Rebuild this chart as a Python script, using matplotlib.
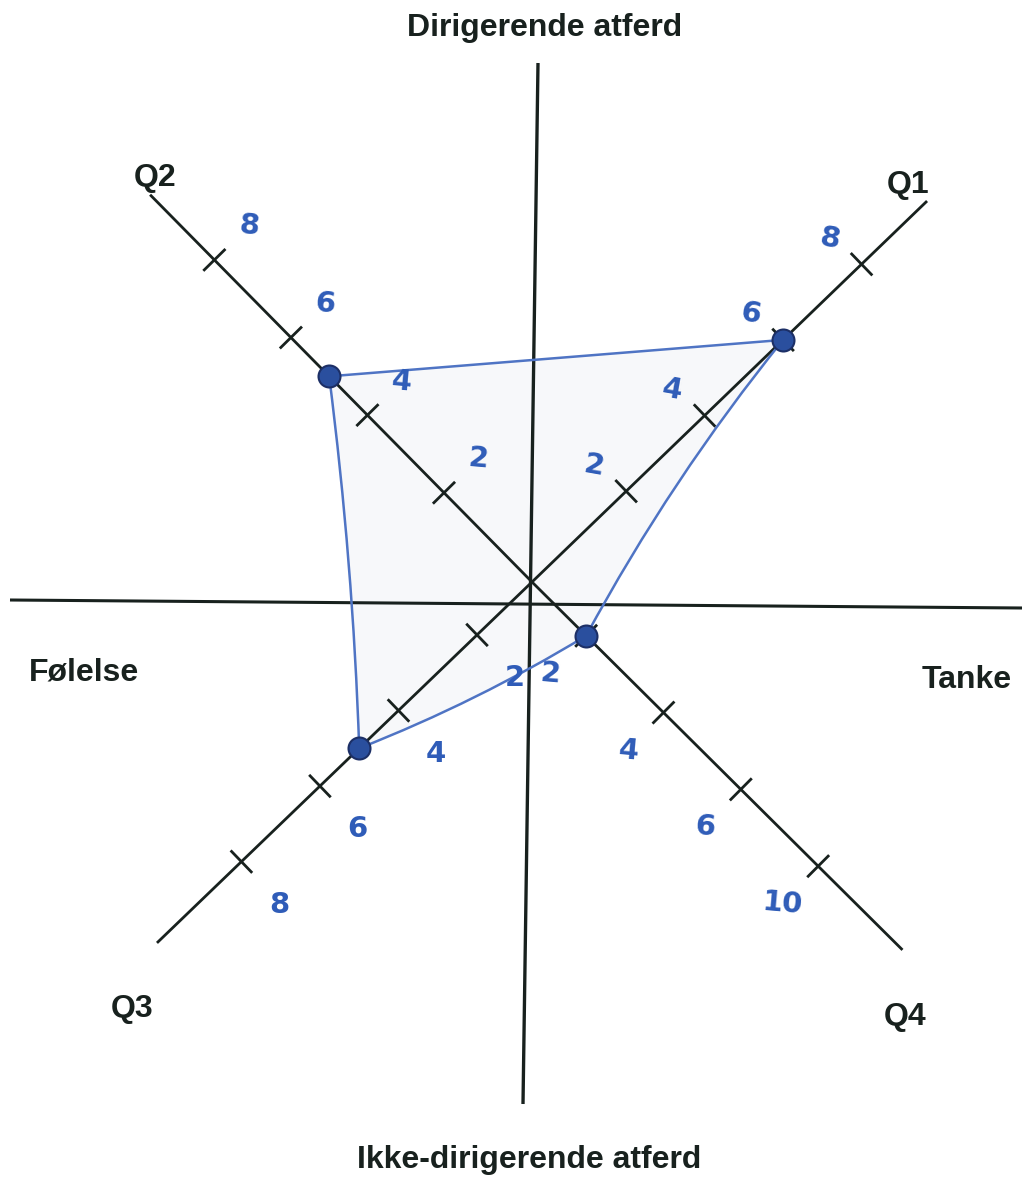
import numpy as np
import matplotlib
matplotlib.use("Agg")
import matplotlib.pyplot as plt
from matplotlib.path import Path
from matplotlib.patches import PathPatch

# ---------------- data ----------------
quadrants = ["Q1", "Q2", "Q3", "Q4"]
scores = [6, 5, 5, 2]                     # plotted value on each diagonal axis
tick_values = [2, 4, 6, 8]
tick_labels = {
    "Q1": ["2", "4", "6", "8"],
    "Q2": ["2", "4", "6", "8"],
    "Q3": ["2", "4", "6", "8"],
    "Q4": ["2", "4", "6", "10"],
}
title_top = "Dirigerende atferd"
title_bottom = "Ikke-dirigerende atferd"
title_left = "Følelse"
title_right = "Tanke"

# ---------------- layout (hand-drawn geometry, in pixels) ----------------
W, H = 1022, 1181
S = 54.5                        # pixels per scale unit along an axis
CX, CY = 532, 582               # pixel position of the crossing
angle = {"Q1": 43.96, "Q2": 134.6, "Q3": 223.9, "Q4": -44.8}
length = {"Q1": 10.07, "Q2": 9.98, "Q3": 9.55, "Q4": 9.58}
zero_shift = {"Q1": 0.4, "Q2": 0.3, "Q3": -0.6, "Q4": -0.6}
label_side = {"Q1": 1, "Q2": -1, "Q3": 1, "Q4": -1}   # +1 = ccw perpendicular
label_dist = {"Q1": 0.75, "Q2": 0.88, "Q3": 1.05, "Q4": 0.95}
label_along = {"Q1": -0.1, "Q2": 0.0, "Q3": 0.05, "Q4": 0.03}
label_rot = {"Q1": -10, "Q2": -5, "Q3": 0, "Q4": -5}
name_off_px = {"Q1": (-19, -8), "Q2": (5, -9), "Q3": (-25, 74), "Q4": (3, 75)}
edge_bulge = {("Q1", "Q4"): -0.15, ("Q4", "Q3"): 0.1, ("Q3", "Q2"): -0.08, ("Q2", "Q1"): 0.0}

BLACK = "#18211e"
BLUE_LINE = "#4f74c4"
BLUE_PT = "#2a4f9e"
BLUE_TXT = "#2f5cb8"
TITLE_FONT = dict(fontsize=23, fontweight="bold", family="Liberation Sans", color=BLACK)
HAND_FONT = ["Liberation Sans Narrow", "DejaVu Sans"]

fig = plt.figure(figsize=(W / 100, H / 100), dpi=100)
ax = fig.add_axes([0, 0, 1, 1])
ax.set_xlim(-CX / S, (W - CX) / S)
ax.set_ylim((CY - H) / S, CY / S)
ax.axis("off")


def px(x, y):
    return (x - CX) / S, (CY - y) / S


def unit(q):
    a = np.deg2rad(angle[q])
    return np.array([np.cos(a), np.sin(a)])


def pos(q, v):
    return (v + zero_shift[q]) * unit(q)


# main vertical / horizontal axes (slightly skewed as in the scan)
x0, y0 = px(538, 63)
x1, y1 = px(523, 1104)
ax.plot([x0, x1], [y0, y1], color=BLACK, lw=2.4, solid_capstyle="butt", zorder=2)
x0, y0 = px(10, 600)
x1, y1 = px(1022, 608)
ax.plot([x0, x1], [y0, y1], color=BLACK, lw=2.2, solid_capstyle="butt", zorder=2)

# diagonal axes with ticks
for q in quadrants:
    u = unit(q)
    end = length[q] * u
    ax.plot([0, end[0]], [0, end[1]], color=BLACK, lw=2.0, solid_capstyle="butt", zorder=2)
    perp = np.array([-u[1], u[0]])
    for tv, tl in zip(tick_values, tick_labels[q]):
        p = pos(q, tv)
        a = p - 0.26 * perp
        b = p + 0.26 * perp
        ax.plot([a[0], b[0]], [a[1], b[1]], color=BLACK, lw=2.0, zorder=2)
        lp = p + label_side[q] * label_dist[q] * perp + label_along[q] * u
        ax.text(lp[0], lp[1], tl, color=BLUE_TXT, fontsize=21, family=HAND_FONT,
                fontweight="bold", ha="center", va="center",
                rotation=label_rot[q], zorder=6)
    ex, ey = CX + end[0] * S, CY - end[1] * S
    ox, oy = name_off_px[q]
    nx, ny = px(ex + ox, ey + oy)
    ax.text(nx, ny, q, ha="center", va="baseline", zorder=6, **TITLE_FONT)

# blue polygon through the scores
order = ["Q1", "Q4", "Q3", "Q2", "Q1"]
val = dict(zip(quadrants, scores))
verts, codes = [], []
for i in range(len(order) - 1):
    qa, qb = order[i], order[i + 1]
    pa, pb = pos(qa, val[qa]), pos(qb, val[qb])
    mid = (pa + pb) / 2
    d = pb - pa
    n = np.array([d[1], -d[0]]) / np.linalg.norm(d)
    if np.dot(n, mid) < 0:
        n = -n
    ctrl = mid + 2 * edge_bulge[(qa, qb)] * n
    if i == 0:
        verts.append(pa)
        codes.append(Path.MOVETO)
    verts += [ctrl, pb]
    codes += [Path.CURVE3, Path.CURVE3]
path = Path(np.array(verts), codes)
ax.add_patch(PathPatch(path, facecolor="#f7f8fa", edgecolor="none", zorder=1))
ax.add_patch(PathPatch(path, facecolor="none", edgecolor=BLUE_LINE, lw=1.8, zorder=3))

pts = np.array([pos(q, v) for q, v in zip(quadrants, scores)])
ax.scatter(pts[:, 0], pts[:, 1], s=250, color=BLUE_PT, edgecolor="#1c2f66",
           linewidth=1.5, zorder=5)

# axis titles
for txt, (tx, ty) in [(title_top, (545, 36)), (title_bottom, (529, 1168)),
                      (title_left, (84, 680)), (title_right, (967, 688))]:
    x, y = px(tx, ty)
    ax.text(x, y, txt, ha="center", va="baseline", zorder=6, **TITLE_FONT)

fig.savefig("out.png", dpi=100, facecolor="white")
